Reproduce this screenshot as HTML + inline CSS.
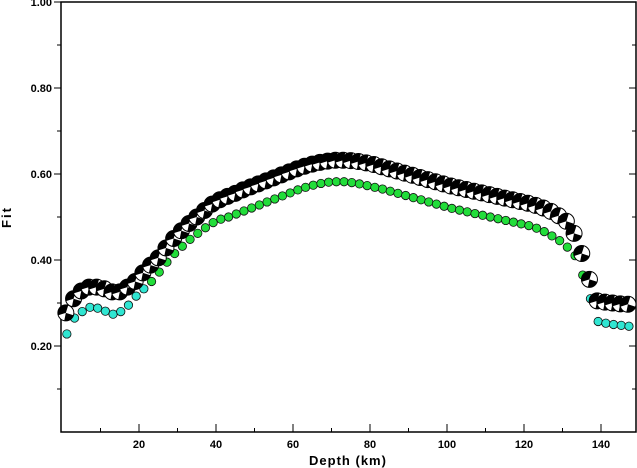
<!DOCTYPE html>
<html><head><meta charset="utf-8"><style>body{margin:0;background:#fff}svg{display:block;font-family:"Liberation Sans",sans-serif}</style></head>
<body>
<svg id="chart" width="637" height="468">
<rect x="61" y="2" width="575" height="430" fill="none" stroke="#000" stroke-width="1.5"/>
<g id="axes"></g>
<g id="marks"></g>
<text x="348" y="465" text-anchor="middle" font-size="13" font-weight="bold" letter-spacing="1">Depth (km)</text>
<text transform="translate(11,217) rotate(-90)" text-anchor="middle" font-size="13" font-weight="bold" letter-spacing="2">Fit</text>
</svg>
<script>
const depths=[];for(let d=1;d<=147;d+=2)depths.push(d);
const fitBest=[.277,.31,.328,.337,.337,.333,.326,.326,.337,.35,.37,.388,.405,.428,.45,.468,.485,.50,.515,.53,.54,.548,.555,.563,.57,.577,.584,.591,.598,.605,.612,.618,.623,.627,.63,.632,.632,.631,.629,.626,.622,.617,.612,.607,.602,.597,.592,.587,.582,.577,.572,.568,.564,.56,.556,.552,.548,.544,.54,.536,.532,.527,.521,.513,.503,.49,.462,.415,.355,.305,.302,.30,.298,.297];
const fitLow=[.228,.265,.28,.29,.288,.281,.274,.28,.295,.316,.333,.35,.372,.395,.415,.432,.448,.462,.475,.487,.495,.5,.507,.514,.521,.528,.535,.542,.549,.556,.563,.569,.574,.578,.581,.582,.582,.58,.577,.573,.569,.565,.56,.555,.55,.545,.54,.535,.53,.525,.52,.516,.512,.508,.504,.5,.496,.492,.488,.484,.48,.474,.466,.456,.445,.43,.41,.365,.31,.257,.253,.25,.248,.246];
const xTicks=[20,40,60,80,100,120,140];
const yTicks=[0.20,0.40,0.60,0.80,1.00];
const NS="http://www.w3.org/2000/svg";
const X=d=>62+d*3.85, Y=v=>432-v*430;
function mk(t,a,p){const e=document.createElementNS(NS,t);for(const k in a)e.setAttribute(k,a[k]);p.appendChild(e);return e;}
const ax=document.getElementById('axes'), mg=document.getElementById('marks');
for(let d=10;d<=140;d+=10){const l=mk('line',{x1:X(d),x2:X(d),y1:432,y2:d%20?428:424,stroke:'#000'},ax);

}
xTicks.forEach(d=>{const t=mk('text',{x:X(d),y:448,'text-anchor':'middle','font-size':11,'font-weight':'bold'},ax);t.textContent=d;

});
for(let i=1;i<=10;i++){const v=i/10,len=i%2?4:7;
[[61,61-len],[636,636-len]].forEach(p=>{const l=mk('line',{x1:p[0],x2:p[1],y1:Y(v),y2:Y(v),stroke:'#000'},ax);

});}
yTicks.forEach(v=>{const t=mk('text',{x:52,y:Y(v)+4,'text-anchor':'end','font-size':11,'font-weight':'bold'},ax);t.textContent=v.toFixed(2);

});
depths.forEach((d,i)=>{const v=fitLow[i];const c=mk('circle',{cx:X(d)+1,cy:Y(v),r:4.2,fill:v<0.34?'#30e6d2':'#22dd3a',stroke:'#111','stroke-width':0.8},mg);

});
depths.forEach((d,i)=>{const cx=X(d),cy=Y(fitBest[i]),r=8;
const g=mk('g',{},mg);


mk('circle',{cx,cy,r,fill:'#000'},g);
mk('path',{d:`M${cx},${cy} L${cx+r*0.3},${cy-r*0.95} A${r},${r} 0 0 1 ${cx+r*0.95},${cy+r*0.3} Z`,fill:'#fff'},g);
mk('path',{d:`M${cx},${cy} L${cx-r*0.95},${cy+r*0.3} A${r},${r} 0 0 0 ${cx-r*0.2},${cy+r*0.97} Z`,fill:'#fff'},g);
mk('circle',{cx,cy,r,fill:'none',stroke:'#000','stroke-width':1},g);});
</script>
</body></html>
